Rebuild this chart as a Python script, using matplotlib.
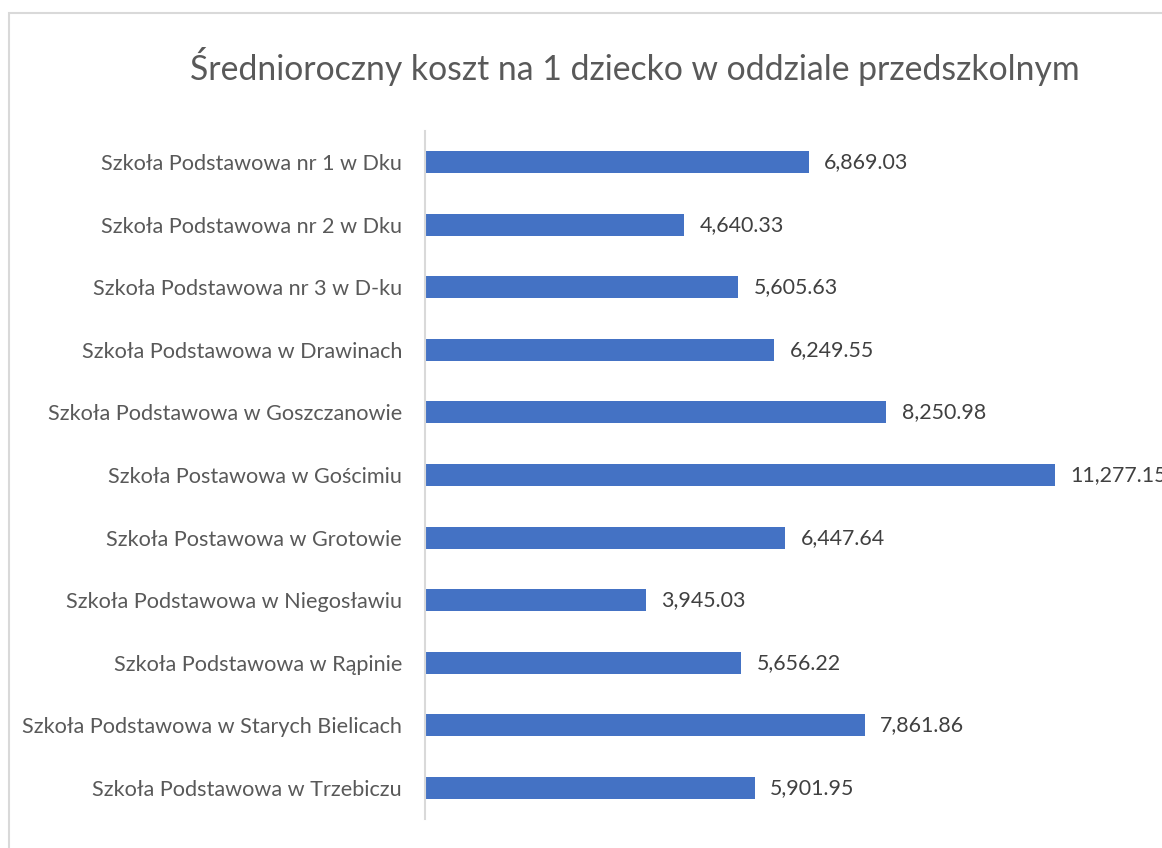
import matplotlib
matplotlib.use('Agg')
import matplotlib.pyplot as plt
from matplotlib.patches import Rectangle

plt.rcParams['font.family'] = ['Lato', 'DejaVu Sans']

schools = [
    'Szkoła Podstawowa nr 1 w Dku',
    'Szkoła Podstawowa nr 2 w Dku',
    'Szkoła Podstawowa nr 3 w D-ku',
    'Szkoła Podstawowa w Drawinach',
    'Szkoła Podstawowa w Goszczanowie',
    'Szkoła Postawowa w Gościmiu',
    'Szkoła Postawowa w Grotowie',
    'Szkoła Podstawowa w Niegosławiu',
    'Szkoła Podstawowa w Rąpinie',
    'Szkoła Podstawowa w Starych Bielicach',
    'Szkoła Podstawowa w Trzebiczu',
]
costs = [6869.03, 4640.33, 5605.63, 6249.55, 8250.98, 11277.15,
         6447.64, 3945.03, 5656.22, 7861.86, 5901.95]

W, H = 1162, 848
fig = plt.figure(figsize=(W / 100, H / 100), dpi=100)
fig.patch.set_facecolor('white')

# light frame around chart (cut at right and bottom)
fig.patches.append(Rectangle((9 / W, -0.1), 1.2, 1 - 13 / H + 0.1,
                             transform=fig.transFigure, fill=False,
                             edgecolor='#D9D9D9', linewidth=1.5))

ax = fig.add_axes([425 / W, 1 - 819.3 / H, 1 - 425 / W, (819.3 - 130.7) / H])
ypos = list(range(len(schools)))
ax.barh(ypos, costs, height=0.35, color='#4472C4')
ax.set_ylim(len(schools) - 0.5, -0.5)
ax.set_xlim(0, (W - 425) / (384 / 6869.03))

ax.set_yticks(ypos)
ax.set_yticklabels(schools, fontsize=15.6, color='#595959')
ax.tick_params(axis='y', length=0, pad=16.5)
ax.set_xticks([])
for s in ['top', 'right', 'bottom']:
    ax.spines[s].set_visible(False)
ax.spines['left'].set_color('#D9D9D9')
ax.spines['left'].set_linewidth(1.5)

for y, v in zip(ypos, costs):
    ax.annotate(f'{v:,.2f}', xy=(v, y), xytext=(11, 0), textcoords='offset points',
                va='center', ha='left', fontsize=15.4, color='#404040',
                annotation_clip=False)

fig.text(635 / W, 1 - 66 / H, 'Średnioroczny koszt na 1 dziecko w oddziale przedszkolnym',
         ha='center', va='center', fontsize=24.3, color='#595959')

fig.savefig('out.png', dpi=100)
